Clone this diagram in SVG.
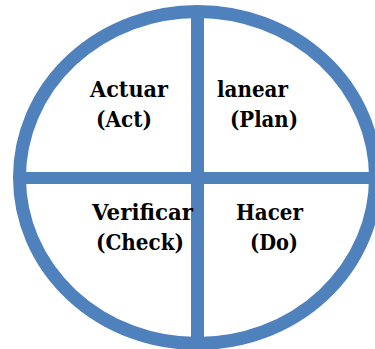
<svg xmlns="http://www.w3.org/2000/svg" width="375" height="349" viewBox="0 0 375 349">
  <style>
    .ring { fill: none; stroke: #4F81BD; stroke-width: 13; }
    .bar { fill: #4F81BD; }
    .lbl { font-family: 'DejaVu Serif', serif; font-weight: bold; font-size: 22px; fill: #000; }
  </style>
  <rect width="375" height="349" fill="#fff"/>
  <g id="connectors">
    <ellipse class="ring" cx="197.5" cy="177.5" rx="178" ry="166"/>
    <rect class="bar" x="191" y="10" width="13" height="333"/>
    <rect class="bar" x="22" y="172" width="350" height="12"/>
  </g>
  <g id="act">
    <text class="lbl" x="90" y="97" textLength="78" lengthAdjust="spacingAndGlyphs">Actuar</text>
    <text class="lbl" x="96" y="127" textLength="56" lengthAdjust="spacingAndGlyphs">(Act)</text>
  </g>
  <g id="plan">
    <text class="lbl" x="217" y="97" textLength="71" lengthAdjust="spacingAndGlyphs">lanear</text>
    <text class="lbl" x="230" y="127" textLength="68" lengthAdjust="spacingAndGlyphs">(Plan)</text>
  </g>
  <g id="check">
    <text class="lbl" x="92" y="220" textLength="101" lengthAdjust="spacingAndGlyphs">Verificar</text>
    <text class="lbl" x="96" y="250" textLength="88" lengthAdjust="spacingAndGlyphs">(Check)</text>
  </g>
  <g id="do">
    <text class="lbl" x="236" y="220" textLength="67" lengthAdjust="spacingAndGlyphs">Hacer</text>
    <text class="lbl" x="250" y="250" textLength="48" lengthAdjust="spacingAndGlyphs">(Do)</text>
  </g>
</svg>
